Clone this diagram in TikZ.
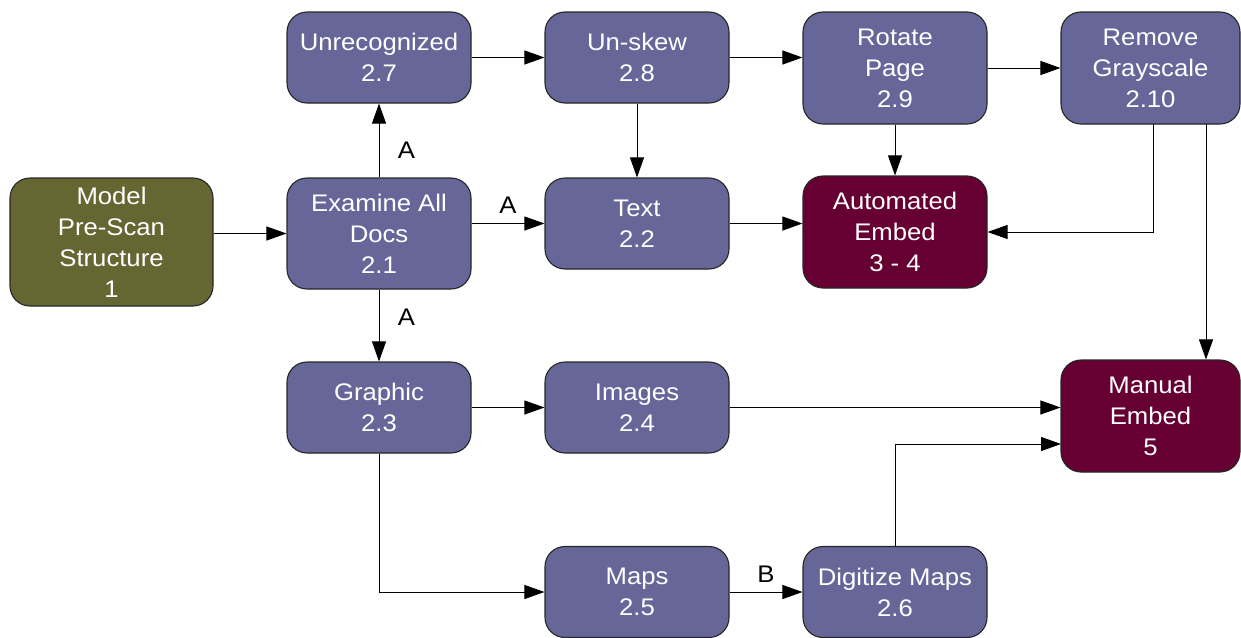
\documentclass[tikz,border=0pt]{standalone}
\usepackage{fontspec}
\setmainfont[FakeStretch=1.07]{Liberation Sans}
\usetikzlibrary{arrows.meta}
\definecolor{boxblue}{HTML}{666699}
\definecolor{boxolive}{HTML}{666633}
\definecolor{boxmaroon}{HTML}{660033}
\tikzset{
  pbox/.style={draw=black!85, line width=1.1pt, rounded corners=20pt, fill=boxblue,
    text=white, align=center, inner sep=0pt,
    font=\fontsize{24}{31}\selectfont},
  obox/.style={pbox, fill=boxolive},
  mbox/.style={pbox, fill=boxmaroon},
  conn/.style={line width=0.9pt, -{Triangle[length=20pt,width=14pt]}},
  lbl/.style={font=\fontsize{24}{31}\selectfont, text=black}
}
\begin{document}
\begin{tikzpicture}[x=1pt,y=-1pt]
\useasboundingbox (0,0) rectangle (1241,637);
% nodes
\node[obox, minimum width=203pt, minimum height=128pt] (m1) at (111.5,242) {Model\\Pre-Scan\\Structure\\1};
\node[pbox, minimum width=184pt, minimum height=111pt] (e21) at (379,233.5) {Examine All\\Docs\\2.1};
\node[pbox, minimum width=184pt, minimum height=91pt] (u27) at (379,57.5) {Unrecognized\\2.7};
\node[pbox, minimum width=184pt, minimum height=91pt] (s28) at (637,57.5) {Un-skew\\2.8};
\node[pbox, minimum width=184pt, minimum height=112pt] (r29) at (895,68) {Rotate\\Page\\2.9};
\node[pbox, minimum width=179pt, minimum height=112pt] (g210) at (1150.5,68) {Remove\\Grayscale\\2.10};
\node[pbox, minimum width=184pt, minimum height=91pt] (t22) at (637,223.5) {Text\\2.2};
\node[mbox, minimum width=184pt, minimum height=112pt] (a34) at (895,232) {Automated\\Embed\\3 - 4};
\node[pbox, minimum width=184pt, minimum height=91pt] (g23) at (379,407.5) {Graphic\\2.3};
\node[pbox, minimum width=184pt, minimum height=91pt] (i24) at (637,407.5) {Images\\2.4};
\node[mbox, minimum width=179pt, minimum height=112pt] (m5) at (1150.5,416) {Manual\\Embed\\5};
\node[pbox, minimum width=184pt, minimum height=91pt] (p25) at (637,592) {Maps\\2.5};
\node[pbox, minimum width=184pt, minimum height=91pt] (d26) at (895,592) {Digitize Maps\\2.6};
% connectors
\draw[conn] (m1.east |- e21) -- (e21.west);
\draw[conn] (e21.north) -- node[lbl, right=15pt, pos=0.37] (la1) {A} (u27.south);
\draw[conn] (e21.east |- t22) -- node[lbl, above=6pt] (la2) {A} (t22.west);
\draw[conn] (e21.south) -- node[lbl, right=15pt, pos=0.38] (la3) {A} (g23.north);
\draw[conn] (u27.east) -- (s28.west);
\draw[conn] (s28.south) -- (t22.north);
\draw[conn] (s28.east) -- (s28.east -| r29.west);
\draw[conn] (r29.east) -- (g210.west);
\draw[conn] (r29.south) -- (a34.north);
\coordinate (gx) at (1153,124);
\draw[conn] (gx) |- (a34.east);
\coordinate (gy) at (1206,124);
\draw[conn] (gy) -- (gy |- m5.north);
\draw[conn] (t22.east) -- (t22.east -| a34.west);
\draw[conn] (g23.east) -- (i24.west);
\draw[conn] (i24.east) -- (i24.east -| m5.west);
\draw[conn] (g23.south) |- (p25.west);
\draw[conn] (p25.east) -- node[lbl, above=6pt] (lb) {B} (d26.west);
\coordinate (dm) at (1061,444);
\draw[conn] (d26.north) |- (dm);
\end{tikzpicture}
\end{document}
